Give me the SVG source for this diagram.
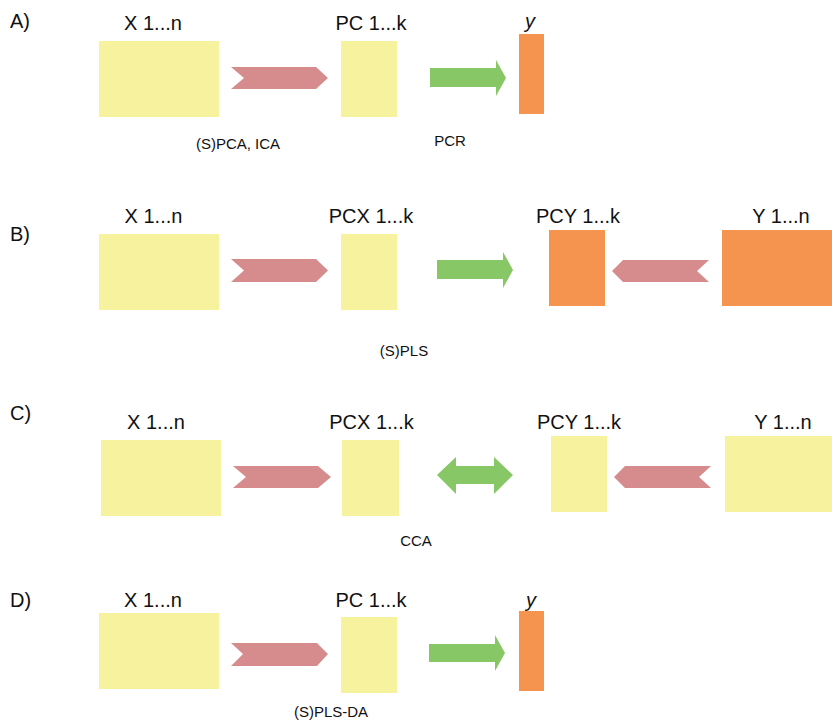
<svg xmlns="http://www.w3.org/2000/svg" width="832" height="720" viewBox="0 0 832 720">
<style>
text{font-family:"Liberation Sans",Arial,sans-serif;fill:#111}
.lbl{font-size:20px;text-anchor:middle}
.pl{font-size:20px}
.sm{font-size:15px;text-anchor:middle}
.it{font-style:italic}
.yel{fill:#F7F29D}
.org{fill:#F4944E}
.red{fill:#D68C8C}
.grn{fill:#88C765}
</style>
<rect width="832" height="720" fill="#fff"/>
<g id="panel-labels">
<text class="pl" x="10" y="28">A)</text>
<text class="pl" x="10" y="241">B)</text>
<text class="pl" x="10" y="420">C)</text>
<text class="pl" x="10" y="607">D)</text>
</g>
<g id="A-X"><rect class="yel" x="99" y="41" width="120" height="76"/><text class="lbl" x="153" y="30">X 1...n</text></g>
<g id="A-PC"><rect class="yel" x="341" y="41" width="56" height="76"/><text class="lbl" x="371" y="30">PC 1...k</text></g>
<g id="A-y"><rect class="org" x="519" y="34" width="25" height="80"/><text class="lbl it" x="530" y="28">y</text></g>
<g id="B-X"><rect class="yel" x="99" y="234" width="120" height="76"/><text class="lbl" x="153.5" y="223">X 1...n</text></g>
<g id="B-PCX"><rect class="yel" x="341" y="234" width="56" height="76"/><text class="lbl" x="371" y="223">PCX 1...k</text></g>
<g id="B-PCY"><rect class="org" x="549" y="230" width="56" height="76"/><text class="lbl" x="578" y="223">PCY 1...k</text></g>
<g id="B-Y"><rect class="org" x="722" y="230" width="110" height="76"/><text class="lbl" x="781" y="223">Y 1...n</text></g>
<g id="C-X"><rect class="yel" x="101" y="440" width="120" height="76"/><text class="lbl" x="156" y="429">X 1...n</text></g>
<g id="C-PCX"><rect class="yel" x="342" y="440" width="57" height="76"/><text class="lbl" x="371.5" y="429">PCX 1...k</text></g>
<g id="C-PCY"><rect class="yel" x="551" y="436" width="56" height="76"/><text class="lbl" x="579" y="429">PCY 1...k</text></g>
<g id="C-Y"><rect class="yel" x="725" y="436" width="107" height="76"/><text class="lbl" x="783" y="429">Y 1...n</text></g>
<g id="D-X"><rect class="yel" x="99" y="613" width="120" height="76"/><text class="lbl" x="153" y="607">X 1...n</text></g>
<g id="D-PC"><rect class="yel" x="341" y="617" width="56" height="76"/><text class="lbl" x="371" y="607">PC 1...k</text></g>
<g id="D-y"><rect class="org" x="519" y="611" width="25" height="80"/><text class="lbl it" x="531" y="607">y</text></g>
<g id="connectors">
<polygon class="red" points="231,67 316,67 328,78 316,89 231,89 244,78"/>
<polygon class="grn" points="430,68 496,68 496,60 506,78 496,96 496,87 430,87"/>
<polygon class="red" points="231,259 316,259 328,270.5 316,282 231,282 244,270.5"/>
<polygon class="grn" points="437,260 503,260 503,252 513,270 503,288 503,279 437,279"/>
<polygon class="red" points="612,271 623,260 709,260 697,271 709,282 623,282"/>
<polygon class="red" points="233,466 318,466 331,477 318,488 233,488 246,477"/>
<polygon class="grn" points="437,475 456,457 456,466 494,466 494,457 513,475 494,494 494,484 456,484 456,494"/>
<polygon class="red" points="614,477 625,466 711,466 699,477 711,488 625,488"/>
<polygon class="red" points="231,643 317,643 328,654 317,666 231,666 243,654"/>
<polygon class="grn" points="429,644 495,644 495,635 505,653 495,671 495,662 429,662"/>
</g>
<g id="method-labels">
<text class="sm" x="238" y="149">(S)PCA, ICA</text>
<text class="sm" x="450" y="146">PCR</text>
<text class="sm" x="404" y="356">(S)PLS</text>
<text class="sm" x="416" y="546">CCA</text>
<text class="sm" x="331" y="717">(S)PLS-DA</text>
</g>
</svg>
